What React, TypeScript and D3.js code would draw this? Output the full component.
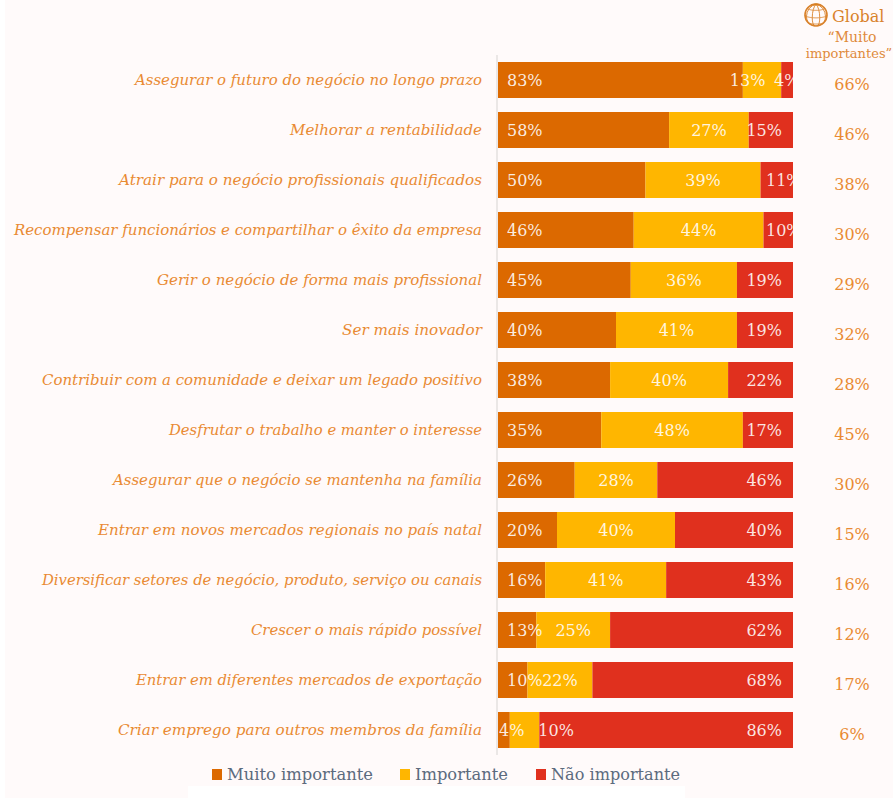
import React from "react";
import * as d3 from "d3";

const categories = [
  "Assegurar o futuro do negócio no longo prazo",
  "Melhorar a rentabilidade",
  "Atrair para o negócio profissionais qualificados",
  "Recompensar funcionários e compartilhar o êxito da empresa",
  "Gerir o negócio de forma mais profissional",
  "Ser mais inovador",
  "Contribuir com a comunidade e deixar um legado positivo",
  "Desfrutar o trabalho e manter o interesse",
  "Assegurar que o negócio se mantenha na família",
  "Entrar em novos mercados regionais no país natal",
  "Diversificar setores de negócio, produto, serviço ou canais",
  "Crescer o mais rápido possível",
  "Entrar em diferentes mercados de exportação",
  "Criar emprego para outros membros da família",
];
const muitoImportante = [83, 58, 50, 46, 45, 40, 38, 35, 26, 20, 16, 13, 10, 4];
const importante = [13, 27, 39, 44, 36, 41, 40, 48, 28, 40, 41, 25, 22, 10];
const naoImportante = [4, 15, 11, 10, 19, 19, 22, 17, 46, 40, 43, 62, 68, 86];
const globalMuito = [66, 46, 38, 30, 29, 32, 28, 45, 30, 15, 16, 12, 17, 6];

const seriesNames = ["Muito importante", "Importante", "Não importante"];
const seriesColors = ["#dc6900", "#ffb600", "#e0301e"];
const seriesValues = [muitoImportante, importante, naoImportante];

const WIDTH = 893;
const HEIGHT = 798;
const SERIF = "'DejaVu Serif', 'Liberation Serif', serif";
const ORANGE = "#e98a33";

// Rendered widths of the category labels, all right-aligned on the same edge.
const categoryWidths = [347, 192, 363, 468, 325, 140, 440, 313, 369, 384, 440, 231, 346, 364];

const x = d3.scaleLinear().domain([0, 100]).range([498, 793]);
const y = d3
  .scaleBand<number>()
  .domain(d3.range(categories.length))
  .range([55, 755])
  .paddingInner(14 / 50)
  .paddingOuter(7 / 50);

// Value labels sit inside their own segment; narrow segments let them spill over.
function labelPlacement(seriesIndex: number, start: number, end: number) {
  const x0 = x(start);
  const x1 = x(end);
  const size = end - start;
  if (seriesIndex === 0) {
    return { at: size <= 4 ? x0 + 1 : x0 + 9, anchor: "start" };
  }
  if (seriesIndex === 1) {
    if (size <= 10) return { at: x1 - 1, anchor: "start" };
    if (size < 15) return { at: x0 - 13, anchor: "start" };
    return { at: (x0 + x1) / 2, anchor: "middle" };
  }
  if (size <= 4) return { at: x1 - 19, anchor: "start" };
  if (size <= 11) return { at: x(100) - 27, anchor: "start" };
  return { at: x(100) - 11, anchor: "end" };
}

// Small globe drawn from a real orthographic projection and graticule.
function Globe({ cx, cy, r }: { cx: number; cy: number; r: number }) {
  const projection = d3.geoOrthographic().scale(r).translate([cx, cy]).rotate([20, -15]).clipAngle(90);
  const path = d3.geoPath(projection);
  const graticule = d3.geoGraticule().step([40, 40])();
  return (
    <g fill="none" stroke="#d9822b">
      <circle cx={cx} cy={cy} r={r} strokeWidth={1.6} />
      <path d={path(graticule) ?? ""} strokeWidth={0.9} />
    </g>
  );
}

const legendItems = [
  { swatch: 212, text: 227, width: 146 },
  { swatch: 400, text: 415, width: 93 },
  { swatch: 536, text: 551, width: 129 },
];

export default function App() {
  return (
    <svg
      width={WIDTH}
      height={HEIGHT}
      viewBox={`0 0 ${WIDTH} ${HEIGHT}`}
      style={{ position: "absolute", left: 0, top: 0, background: "#ffffff", display: "block" }}
    >
      <rect x={5} y={0} width={WIDTH - 5} height={HEIGHT} fill="#fffafa" />
      <rect x={188} y={786} width={497} height={12} fill="#ffffff" />

      <defs>
        <clipPath id="bars-clip">
          <rect x={x(0)} y={0} width={x(100) - x(0)} height={HEIGHT} />
        </clipPath>
      </defs>

      <line x1={497} x2={497} y1={55} y2={755} stroke="#e4e0df" strokeWidth={1.5} />

      {categories.map((label, i) => {
        const top = y(i)!;
        const mid = top + y.bandwidth() / 2;
        let cumulative = 0;
        const segments = seriesValues.map((values, s) => {
          const start = cumulative;
          cumulative += values[i];
          return { s, start, end: cumulative, value: values[i] };
        });
        return (
          <g key={label}>
            <text
              x={482}
              y={mid + 5}
              textAnchor="end"
              fontFamily={SERIF}
              fontStyle="italic"
              fontSize={15}
              fill={ORANGE}
              textLength={categoryWidths[i]}
              lengthAdjust="spacingAndGlyphs"
            >
              {label}
            </text>
            {segments.map((seg) => (
              <rect
                key={seg.s}
                x={x(seg.start)}
                y={top}
                width={x(seg.end) - x(seg.start)}
                height={y.bandwidth()}
                fill={seriesColors[seg.s]}
              />
            ))}
            <g clipPath="url(#bars-clip)">
              {segments.map((seg) => {
                const place = labelPlacement(seg.s, seg.start, seg.end);
                return (
                  <text
                    key={seg.s}
                    x={place.at}
                    y={mid + 6}
                    textAnchor={place.anchor as "start" | "middle" | "end"}
                    fontFamily={SERIF}
                    fontSize={16}
                    fill="#ffffff"
                    fillOpacity={0.88}
                  >
                    {seg.value}%
                  </text>
                );
              })}
            </g>
            <text
              x={852}
              y={mid + 10}
              textAnchor="middle"
              fontFamily={SERIF}
              fontSize={16}
              fill={ORANGE}
            >
              {globalMuito[i]}%
            </text>
          </g>
        );
      })}

      <Globe cx={816} cy={15} r={11} />
      <text x={832} y={22} fontFamily={SERIF} fontSize={16} fill="#d9822b">
        Global
      </text>
      <text x={852} y={42} textAnchor="middle" fontFamily={SERIF} fontSize={14} fill="#e08a3c">
        “Muito
      </text>
      <text x={849} y={58} textAnchor="middle" fontFamily={SERIF} fontSize={13} fill="#e08a3c">
        importantes”
      </text>

      {seriesNames.map((name, i) => (
        <g key={name}>
          <rect x={legendItems[i].swatch} y={769} width={10} height={11} fill={seriesColors[i]} />
          <text
            x={legendItems[i].text}
            y={780}
            fontFamily={SERIF}
            fontSize={17}
            fill="#5c6b7e"
            textLength={legendItems[i].width}
            lengthAdjust="spacingAndGlyphs"
          >
            {name}
          </text>
        </g>
      ))}
    </svg>
  );
}
